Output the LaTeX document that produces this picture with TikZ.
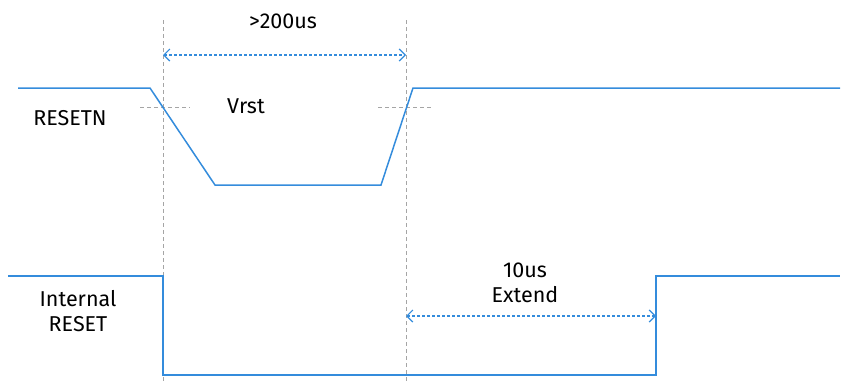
\documentclass[tikz,border=0pt]{standalone}
\usepackage{fontspec}
\setmainfont{Fira Sans}
\usetikzlibrary{arrows.meta}
\definecolor{sig}{RGB}{52,140,220}
\definecolor{guide}{RGB}{165,165,165}
\tikzset{
  signal/.style={draw=sig, line width=1.5pt, line join=miter},
  guideline/.style={draw=guide, line width=0.9pt, dash pattern=on 4pt off 3pt},
  measure/.style={draw=sig, line width=1.2pt, dash pattern=on 3pt off 2pt,
     {Straight Barb[length=6pt,width=12pt]}-{Straight Barb[length=6pt,width=12pt]}},
  lbl/.style={font=\fontsize{21.5}{25}\selectfont, text=black, inner sep=0pt, align=center}
}
\begin{document}
\begin{tikzpicture}[x=1pt,y=-1pt]
\useasboundingbox (0,0) rectangle (860,381);
% guides
\coordinate (g1t) at (163,20); \coordinate (g1b) at (163,381);
\coordinate (g2t) at (406,20); \coordinate (g2b) at (406,381);
\draw[guideline] (g1t) -- (g1b);
\draw[guideline] (g2t) -- (g2b);
\coordinate (h1a) at (140,107); \coordinate (h1b) at (190,107);
\coordinate (h2a) at (378,107); \coordinate (h2b) at (432,107);
\draw[guideline] (h1a) -- (h1b);
\draw[guideline] (h2a) -- (h2b);
% RESETN
\coordinate (r0) at (18,88); \coordinate (r1) at (150,88);
\coordinate (r2) at (215,185); \coordinate (r3) at (381,185);
\coordinate (r4) at (413,88); \coordinate (r5) at (840,88);
\draw[signal] (r0) -- (r1) -- (r2) -- (r3) -- (r4) -- (r5);
% Internal RESET
\coordinate (i0) at (8,276); \coordinate (i1) at (163,276);
\coordinate (i2) at (163,375); \coordinate (i3) at (656,375);
\coordinate (i4) at (656,276); \coordinate (i5) at (840,276);
\draw[signal] (i0) -- (i1) -- (i2) -- (i3) -- (i4) -- (i5);
% measures
\coordinate (m1a) at (163,55); \coordinate (m1b) at (406,55);
\draw[measure] (m1a) -- (m1b);
\coordinate (m2a) at (406,316); \coordinate (m2b) at (656,316);
\draw[measure] (m2a) -- (m2b);
% labels
\node[lbl] (t200) at (283,21) {>200us};
\node[lbl] (vrst) at (246,106) {Vrst};
\node[lbl] (resetn) at (70,118) {RESETN};
\node[lbl] (intr) at (78,311) {Internal\\RESET};
\node[lbl] (ext) at (525,283) {10us\\Extend};
\end{tikzpicture}
\end{document}
